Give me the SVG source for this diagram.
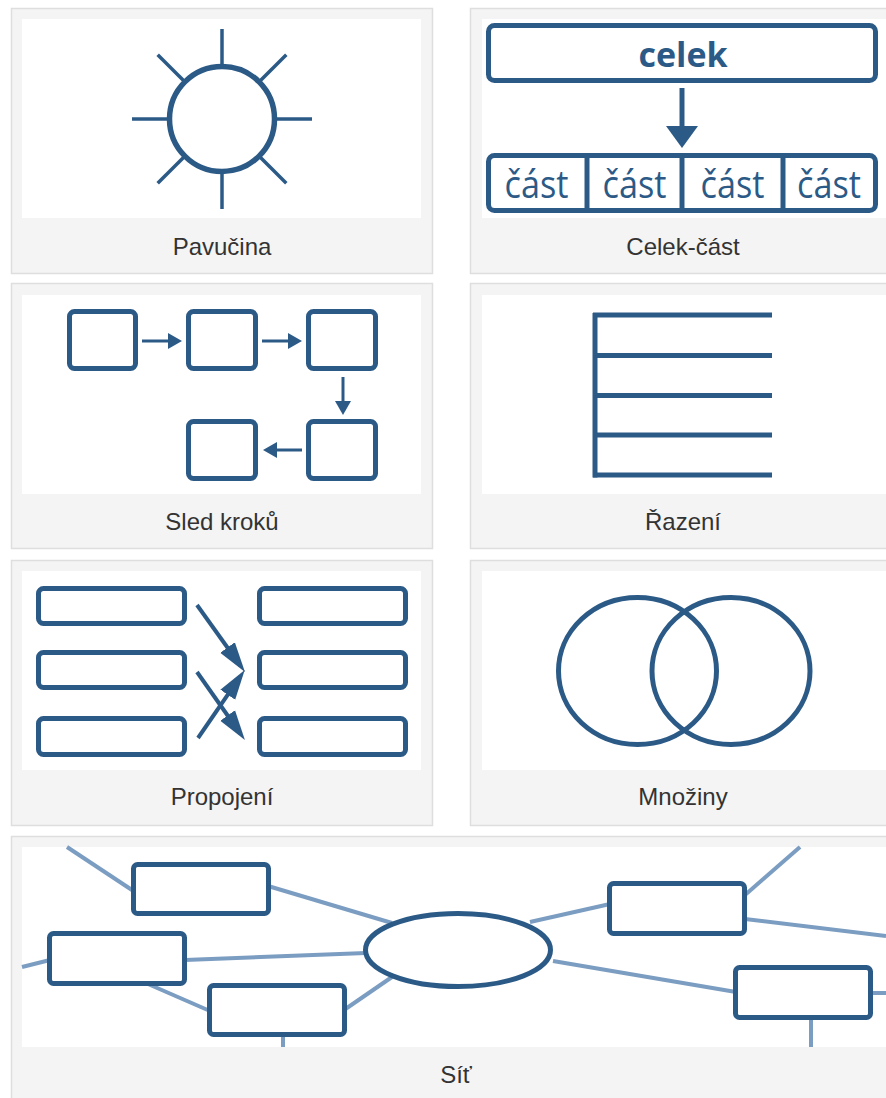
<svg xmlns="http://www.w3.org/2000/svg" width="886" height="1098" viewBox="0 0 886 1098">
<defs>
<style>
.frame{fill:#f4f4f4;stroke:#dedede;stroke-width:1.5}
.inner{fill:#ffffff}
.lbl{font-family:"Liberation Sans",Arial,sans-serif;font-size:24px;fill:#333333;text-anchor:middle}
.blue{stroke:#2c5a87;fill:none}
.box{stroke:#2c5a87;fill:#ffffff;stroke-width:5}
.thin{stroke:#2c5a87;stroke-width:3;fill:none}
.net{stroke:#7b9dc1;stroke-width:4;fill:none}
.bt{font-family:"Open Sans","Noto Sans",sans-serif;fill:#2c5a87;text-anchor:middle}
.part{font-size:38px;font-weight:500}
</style>
<marker id="ah" markerUnits="userSpaceOnUse" markerWidth="14" markerHeight="16" refX="10" refY="8" orient="auto">
<path d="M0,0 L14,8 L0,16 z" fill="#2c5a87"/>
</marker>
<marker id="ahBig" markerUnits="userSpaceOnUse" markerWidth="30" markerHeight="20" refX="22" refY="10" orient="auto">
<path d="M0,1 L30,10 L0,19 z" fill="#2c5a87"/>
</marker>
</defs>
<rect width="886" height="1098" fill="#ffffff"/>

<g id="panel-pavucina">
<rect class="frame" x="11.5" y="8.5" width="421" height="265"/>
<rect class="inner" x="22" y="19" width="399" height="199"/>
<g class="blue" stroke-width="3.5">
<line x1="222" y1="29" x2="222" y2="66"/>
<line x1="222" y1="172" x2="222" y2="209"/>
<line x1="132" y1="119" x2="170" y2="119"/>
<line x1="274" y1="119" x2="312" y2="119"/>
<line x1="157.7" y1="54.7" x2="185" y2="82"/>
<line x1="286.3" y1="54.7" x2="259" y2="82"/>
<line x1="157.7" y1="183.3" x2="185" y2="156"/>
<line x1="286.3" y1="183.3" x2="259" y2="156"/>
</g>
<circle class="blue" cx="222" cy="119" r="52.5" stroke-width="5.5" fill="#ffffff"/>
<text class="lbl" x="222" y="255">Pavučina</text>
</g>

<g id="panel-celek">
<rect class="frame" x="470.5" y="8.5" width="430" height="265"/>
<rect class="inner" x="482" y="19" width="410" height="199"/>
<rect class="box" x="488.5" y="25.5" width="387" height="55" rx="6"/>
<text class="bt" x="683" y="67" font-size="34" font-weight="bold">celek</text>
<line x1="682" y1="88" x2="682" y2="130" stroke="#2c5a87" stroke-width="5"/>
<polygon points="666,126 698,126 682,148" fill="#2c5a87"/>
<rect class="box" x="488.5" y="155.5" width="387" height="55" rx="6"/>
<line x1="587" y1="155" x2="587" y2="211" stroke="#2c5a87" stroke-width="5"/>
<line x1="682" y1="155" x2="682" y2="211" stroke="#2c5a87" stroke-width="5"/>
<line x1="783" y1="155" x2="783" y2="211" stroke="#2c5a87" stroke-width="5"/>
<text class="bt part" x="536.5" y="198" textLength="64" lengthAdjust="spacingAndGlyphs">část</text>
<text class="bt part" x="634.5" y="198" textLength="64" lengthAdjust="spacingAndGlyphs">část</text>
<text class="bt part" x="732.5" y="198" textLength="64" lengthAdjust="spacingAndGlyphs">část</text>
<text class="bt part" x="829" y="198" textLength="64" lengthAdjust="spacingAndGlyphs">část</text>
<text class="lbl" x="683" y="255">Celek-část</text>
</g>

<g id="panel-sled">
<rect class="frame" x="11.5" y="283.5" width="421" height="265"/>
<rect class="inner" x="22" y="295" width="399" height="199"/>
<rect class="box" x="69.5" y="311.5" width="66" height="57" rx="5"/>
<rect class="box" x="188.5" y="311.5" width="67" height="57" rx="5"/>
<rect class="box" x="308.5" y="311.5" width="67" height="57" rx="5"/>
<rect class="box" x="308.5" y="421.5" width="67" height="57" rx="5"/>
<rect class="box" x="188.5" y="421.5" width="67" height="57" rx="5"/>
<g id="sled-connectors">
<line class="thin" x1="142" y1="341" x2="178" y2="341" marker-end="url(#ah)"/>
<line class="thin" x1="262" y1="341" x2="298" y2="341" marker-end="url(#ah)"/>
<line class="thin" x1="343" y1="377" x2="343" y2="411" marker-end="url(#ah)"/>
<line class="thin" x1="302" y1="450" x2="267" y2="450" marker-end="url(#ah)"/>
</g>
<text class="lbl" x="222" y="530">Sled kroků</text>
</g>

<g id="panel-razeni">
<rect class="frame" x="470.5" y="283.5" width="430" height="265"/>
<rect class="inner" x="482" y="295" width="410" height="199"/>
<g stroke="#2c5a87" stroke-width="5" fill="none">
<line x1="595" y1="313" x2="595" y2="477.5"/>
<line x1="593" y1="315" x2="772" y2="315"/>
<line x1="595" y1="355.5" x2="772" y2="355.5"/>
<line x1="595" y1="395.5" x2="772" y2="395.5"/>
<line x1="595" y1="435" x2="772" y2="435"/>
<line x1="593" y1="475" x2="772" y2="475"/>
</g>
<text class="lbl" x="683" y="530">Řazení</text>
</g>

<g id="panel-propojeni">
<rect class="frame" x="11.5" y="560.5" width="421" height="265"/>
<rect class="inner" x="22" y="571" width="399" height="199"/>
<rect class="box" x="38.5" y="588.5" width="146" height="35" rx="5"/>
<rect class="box" x="38.5" y="652.5" width="146" height="35" rx="5"/>
<rect class="box" x="38.5" y="718.5" width="146" height="36" rx="5"/>
<rect class="box" x="259.5" y="588.5" width="146" height="35" rx="5"/>
<rect class="box" x="259.5" y="652.5" width="146" height="35" rx="5"/>
<rect class="box" x="259.5" y="718.5" width="146" height="36" rx="5"/>
<g id="propojeni-connectors" stroke="#2c5a87" stroke-width="4">
<line x1="197" y1="605" x2="240.3" y2="665.5" marker-end="url(#ahBig)"/>
<line x1="197" y1="672" x2="240.3" y2="733.5" marker-end="url(#ahBig)"/>
<line x1="198" y1="738" x2="240.2" y2="676.6" marker-end="url(#ahBig)"/>
</g>
<text class="lbl" x="222" y="805">Propojení</text>
</g>

<g id="panel-mnoziny">
<rect class="frame" x="470.5" y="560.5" width="430" height="265"/>
<rect class="inner" x="482" y="571" width="410" height="199"/>
<ellipse class="blue" cx="637.5" cy="671" rx="79" ry="73.5" stroke-width="5"/>
<ellipse class="blue" cx="731" cy="671" rx="79" ry="73.5" stroke-width="5"/>
<text class="lbl" x="683" y="805">Množiny</text>
</g>

<g id="panel-sit">
<rect class="frame" x="11.5" y="836.5" width="900" height="280"/>
<rect class="inner" x="22" y="847" width="870" height="200"/>
<g id="sit-connectors" class="net">
<line x1="67" y1="847" x2="135" y2="892"/>
<line x1="268" y1="886" x2="392" y2="923"/>
<line x1="22" y1="967" x2="50" y2="960"/>
<line x1="185" y1="960" x2="366" y2="953"/>
<line x1="148" y1="984" x2="210" y2="1011"/>
<line x1="344" y1="1010" x2="392" y2="977"/>
<line x1="283" y1="1035" x2="283" y2="1047"/>
<line x1="530" y1="922" x2="610" y2="904"/>
<line x1="745" y1="895" x2="800" y2="847"/>
<line x1="745" y1="919" x2="886" y2="936"/>
<line x1="553" y1="961" x2="736" y2="992"/>
<line x1="870" y1="993" x2="886" y2="993"/>
<line x1="811" y1="1018" x2="811" y2="1047"/>
</g>
<rect id="sit-box-a" class="box" x="133.5" y="864.5" width="135" height="49" rx="4"/>
<rect id="sit-box-b" class="box" x="49.5" y="933.5" width="135" height="50" rx="4"/>
<rect id="sit-box-c" class="box" x="209.5" y="985.5" width="135" height="49" rx="4"/>
<ellipse id="sit-center" class="blue" cx="458" cy="950" rx="92.5" ry="36.5" stroke-width="5" fill="#ffffff"/>
<rect id="sit-box-d" class="box" x="609.5" y="883.5" width="135" height="50" rx="4"/>
<rect id="sit-box-e" class="box" x="735.5" y="967.5" width="135" height="50" rx="4"/>
<text class="lbl" x="456" y="1083">Síť</text>
</g>
</svg>
